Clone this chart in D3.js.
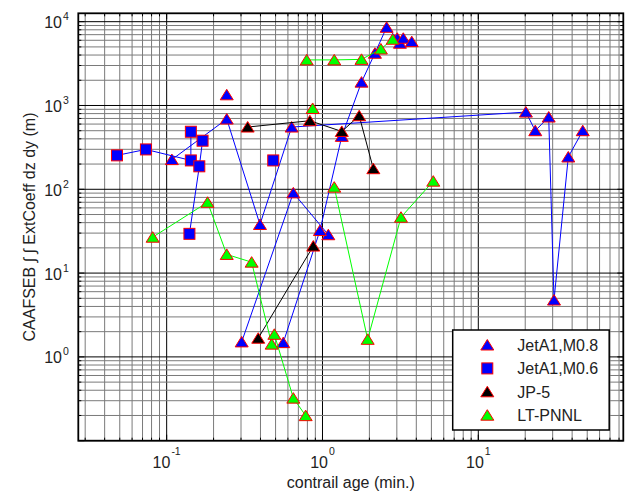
<!DOCTYPE html>
<html>
<head>
<meta charset="utf-8">
<script src="https://cdn.jsdelivr.net/npm/d3@7"></script>
<style>
  body { margin: 0; background: #fff; }
  text { font-family: "Liberation Sans", Arial, sans-serif; fill: #222; }
</style>
</head>
<body>
<svg id="chart" width="635" height="496"></svg>
<script>
// values, null = break in the line
var m08Age = [0.108, 0.243, 0.397, 0.634, 20.2, 23.2, 28.3, 30.6, 37.8, 46.8, null,
              0.303, 0.650, 1.09, null,
              0.560, 0.963, 1.33, 1.78, 2.17, 2.58, 3.02, 3.14, 3.30, 3.74, null,
              0.243];
var m08Val = [226, 689, 38, 553, 834, 500, 728, 4.77, 243, 500, null,
              1.51, 90.6, 28.7, null,
              1.48, 32.2, 428, 1900, 4200, 8570, 6340, 5530, 6340, 5780, null,
              1341];

var m06Age = [0.048, 0.0736, 0.143, 0.143, null, 0.170, 0.162, 0.140, null, 0.483];
var m06Val = [254, 299, 221, 486, null, 380, 188, 29.4, null, 221];

var jp5Age = [0.331, 0.83, 1.33, 1.72, 2.12, null, 0.387, 0.873];
var jp5Val = [553, 658, 490, 754, 176, null, 1.67, 21.0];

var ltAge = [0.0813, 0.183, 0.243, 0.351, 0.472, 0.491, 0.650, 0.780, null,
             1.19, 1.95, 3.19, 5.14, null,
             0.792, 1.19, 1.78, 2.37, 2.82, null,
             0.865];
var ltVal = [26.8, 70, 16.7, 13.5, 1.42, 1.86, 0.322, 0.199, null,
             106, 1.62, 46.4, 125, null,
             3500, 3500, 3550, 4720, 6170, null,
             921];

var seriesNames = ["JetA1,M0.8", "JetA1,M0.6", "JP-5", "LT-PNNL"];
var xLabelExps = [-1, 0, 1];
var yLabelExps = [0, 1, 2, 3, 4];

var svg = d3.select("#chart"),
    margin = {top: 13.3, right: 11.7, bottom: 55.3, left: 78.3},
    width = +svg.attr("width") - margin.left - margin.right,
    height = +svg.attr("height") - margin.top - margin.bottom,
    g = svg.append("g").attr("transform", "translate(" + margin.left + "," + margin.top + ")");

var x = d3.scaleLog().domain([0.0271, 85.2]).range([0, width]);
var y = d3.scaleLog().domain([0.1, 12590]).range([height, 0]);

function logTicks(sc) {
  var d = sc.domain(), out = [];
  for (var e = -3; e <= 5; e++)
    for (var k = 1; k <= 9; k++) {
      var v = k * Math.pow(10, e);
      if (v >= d[0] * 0.999 && v <= d[1] * 1.001) out.push(v);
    }
  return out;
}
function isMajor(v) {
  var l = Math.log10(v);
  return Math.abs(l - Math.round(l)) < 1e-9;
}

var xt = logTicks(x), yt = logTicks(y);

// grid
g.selectAll(".gx").data(xt).enter().append("line")
    .attr("x1", function(d) { return x(d); })
    .attr("x2", function(d) { return x(d); })
    .attr("y1", 0).attr("y2", height)
    .attr("stroke", function(d) { return isMajor(d) ? "#000" : "#7a7a7a"; })
    .attr("stroke-width", 1);

g.selectAll(".gy").data(yt).enter().append("line")
    .attr("y1", function(d) { return y(d); })
    .attr("y2", function(d) { return y(d); })
    .attr("x1", 0).attr("x2", width)
    .attr("stroke", function(d) { return isMajor(d) ? "#000" : "#7a7a7a"; })
    .attr("stroke-width", 1);

// inward ticks on all four sides
function tickLen(d) { return isMajor(d) ? 6 : 3; }
xt.forEach(function(d) {
  g.append("line").attr("x1", x(d)).attr("x2", x(d)).attr("y1", height).attr("y2", height - tickLen(d)).attr("stroke", "#000");
  g.append("line").attr("x1", x(d)).attr("x2", x(d)).attr("y1", 0).attr("y2", tickLen(d)).attr("stroke", "#000");
});
yt.forEach(function(d) {
  g.append("line").attr("y1", y(d)).attr("y2", y(d)).attr("x1", 0).attr("x2", tickLen(d)).attr("stroke", "#000");
  g.append("line").attr("y1", y(d)).attr("y2", y(d)).attr("x1", width).attr("x2", width - tickLen(d)).attr("stroke", "#000");
});

// frame
g.append("rect")
    .attr("width", width).attr("height", height)
    .attr("fill", "none").attr("stroke", "#000").attr("stroke-width", 1.8);

// tick labels
g.selectAll(".xl").data(xLabelExps).enter().append("text")
    .attr("x", function(d) { return x(Math.pow(10, d)); })
    .attr("y", height + 27.5)
    .attr("text-anchor", "middle")
    .style("font-size", "16px")
    .each(function(d) {
      var t = d3.select(this);
      t.append("tspan").text("10");
      t.append("tspan").attr("dx", 1).attr("dy", -13).style("font-size", "10.5px").text(d);
    });

g.selectAll(".yl").data(yLabelExps).enter().append("text")
    .attr("x", -9.5)
    .attr("y", function(d) { return y(Math.pow(10, d)) + 6.5; })
    .attr("text-anchor", "end")
    .style("font-size", "16px")
    .each(function(d) {
      var t = d3.select(this);
      t.append("tspan").text("10");
      t.append("tspan").attr("dx", 1).attr("dy", -8).style("font-size", "10.5px").text(d);
    });

// axis titles
g.append("text")
    .attr("x", width / 2).attr("y", height + 47.5)
    .attr("text-anchor", "middle")
    .style("font-size", "16px")
    .text("contrail age (min.)");

svg.append("text")
    .attr("transform", "translate(35," + (margin.top + height / 2) + ") rotate(-90)")
    .attr("text-anchor", "middle")
    .style("font-size", "16px")
    .text("CAAFSEB \u222B \u222B ExtCoeff dz dy (m)");

// series
var triPath = "M0,-5.5L6.5,5L-6.5,5Z";

function zip(a, b) {
  return a.map(function(v, i) { return v == null ? null : [v, b[i]]; });
}

var line = d3.line()
    .defined(function(d) { return d != null; })
    .x(function(d) { return x(d[0]); })
    .y(function(d) { return y(d[1]); });

function drawSeries(pts, color, shape) {
  g.append("path").datum(pts)
      .attr("fill", "none").attr("stroke", color).attr("stroke-width", 1)
      .attr("d", line);
  var p = pts.filter(function(d) { return d != null; });
  if (shape === "square") {
    g.selectAll(null).data(p).enter().append("rect")
        .attr("x", function(d) { return x(d[0]) - 5.5; })
        .attr("y", function(d) { return y(d[1]) - 5.5; })
        .attr("width", 11).attr("height", 11)
        .attr("fill", color).attr("stroke", "#ff0000").attr("stroke-width", 1);
  } else {
    g.selectAll(null).data(p).enter().append("path")
        .attr("d", triPath)
        .attr("transform", function(d) { return "translate(" + x(d[0]) + "," + y(d[1]) + ")"; })
        .attr("fill", color).attr("stroke", "#ff0000").attr("stroke-width", 1);
  }
}

var colors = ["#0000ff", "#0000ff", "#000000", "#00ff00"];
var shapes = ["tri", "square", "tri", "tri"];

drawSeries(zip(m08Age, m08Val), colors[0], shapes[0]);
drawSeries(zip(m06Age, m06Val), colors[1], shapes[1]);
drawSeries(zip(jp5Age, jp5Val), colors[2], shapes[2]);
drawSeries(zip(ltAge, ltVal), colors[3], shapes[3]);

// legend
var lg = svg.append("g").attr("transform", "translate(452.7,330)");
lg.append("rect")
    .attr("width", 156.5).attr("height", 100)
    .attr("fill", "#fff").attr("stroke", "#000").attr("stroke-width", 1.5);

var item = lg.selectAll(".legend").data(seriesNames).enter().append("g")
    .attr("transform", function(d, i) { return "translate(0," + (15 + i * 23.4) + ")"; });

item.each(function(d, i) {
  var it = d3.select(this);
  if (shapes[i] === "square") {
    it.append("rect").attr("x", 34.6 - 5.5).attr("y", -5.5).attr("width", 11).attr("height", 11)
        .attr("fill", colors[i]).attr("stroke", "#ff0000");
  } else {
    it.append("path").attr("d", triPath).attr("transform", "translate(34.6,0)")
        .attr("fill", colors[i]).attr("stroke", "#ff0000");
  }
  it.append("text").attr("x", 64.6).attr("y", 6)
      .style("font-size", "16px").text(d);
});
</script>
</body>
</html>
